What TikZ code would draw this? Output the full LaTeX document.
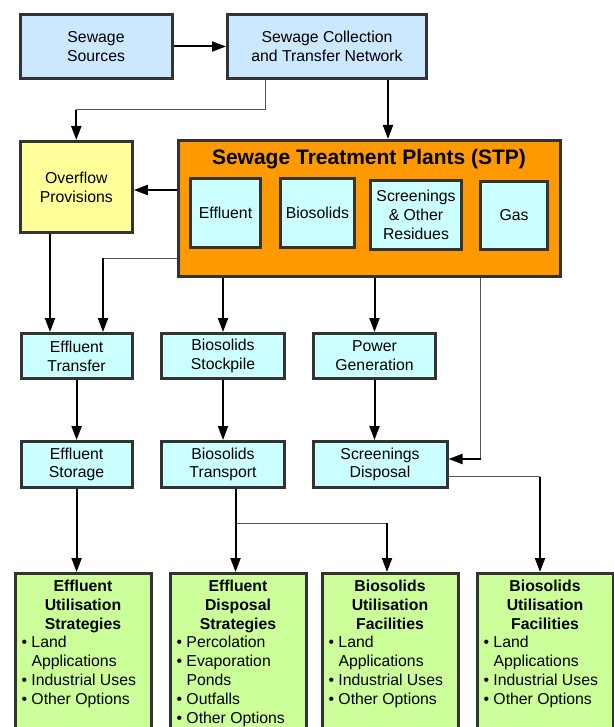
\documentclass[tikz,border=0pt]{standalone}
\usepackage{fontspec}
\setmainfont{Liberation Sans}
\usetikzlibrary{arrows.meta}

\definecolor{srcblue}{HTML}{CCE8FF}
\definecolor{boxcyan}{HTML}{CCFFFF}
\definecolor{ovyellow}{HTML}{FFFF99}
\definecolor{stporange}{HTML}{FF9900}
\definecolor{outgreen}{HTML}{CCFF99}
\definecolor{edgegray}{HTML}{333333}
\definecolor{thingray}{HTML}{555555}

\newcommand{\bul}[1]{\par\hangindent=10pt\hangafter=1\noindent\makebox[10pt][l]{\textbullet}#1}
\newcommand{\outtext}[2]{\parbox[c][160pt][t]{123pt}{{\centering\bfseries #1\par}\raggedright #2}}

\begin{document}
\begin{tikzpicture}[x=1pt, y=-1pt, font=\fontsize{15.8}{18.8}\selectfont,
  box/.style={draw=edgegray, line width=3pt, align=center, inner sep=2pt},
  cyanbox/.style={box, fill=boxcyan},
  outbox/.style={draw=edgegray, line width=3pt, fill=outgreen, minimum width=136pt, minimum height=173pt, inner xsep=6.5pt, inner ysep=0pt},
  arr/.style={line width=2pt, -{Triangle[length=14pt,width=10pt]}},
  thinline/.style={draw=thingray, line width=1pt}]
\useasboundingbox (0,0) rectangle (613,727);

\node [box, fill=srcblue, minimum width=152pt, minimum height=64pt] (src) at (96,46.5) {Sewage\\Sources};
\node [box, fill=srcblue, minimum width=199pt, minimum height=64pt] (coll) at (327,46.5) {Sewage Collection\\and Transfer Network};
\node [box, fill=ovyellow, minimum width=112pt, minimum height=91pt] (over) at (76.3,187) {Overflow\\Provisions};
\node [box, fill=stporange, minimum width=382pt, minimum height=136pt] (stp) at (369.3,208.5) {};
\node [font=\fontsize{21}{25}\selectfont\bfseries, anchor=base] (stptitle) at (369,164.5) {Sewage Treatment Plants (STP)};

\node [cyanbox, minimum width=70pt, minimum height=69pt] (ineff) at (225.5,213) {Effluent};
\node [cyanbox, minimum width=74pt, minimum height=69pt] (inbio) at (317.5,213) {Biosolids};
\node [cyanbox, minimum width=91pt, minimum height=69pt] (inscr) at (416,215) {Screenings\\\& Other\\Residues};
\node [cyanbox, minimum width=67pt, minimum height=68pt] (ingas) at (514,215.5) {Gas};

\node [cyanbox, minimum width=111pt, minimum height=45pt] (eftr) at (76.6,356) {Effluent\\Transfer};
\node [cyanbox, minimum width=123pt, minimum height=45pt] (bsto) at (223,356) {Biosolids\\Stockpile};
\node [cyanbox, minimum width=122pt, minimum height=45pt] (powr) at (374.5,356) {Power\\Generation};
\node [cyanbox, minimum width=111pt, minimum height=46pt] (efst) at (76.6,464.5) {Effluent\\Storage};
\node [cyanbox, minimum width=123pt, minimum height=46pt] (btra) at (223,464.5) {Biosolids\\Transport};
\node [cyanbox, minimum width=134pt, minimum height=46pt] (sdis) at (380,464.5) {Screenings\\Disposal};

\node [outbox] (b1) at (83,660) {\outtext{Effluent\\Utilisation\\Strategies}{\bul{Land\newline Applications}\bul{Industrial Uses}\bul{Other Options}}};
\node [outbox] (b2) at (238,660) {\outtext{Effluent\\Disposal\\Strategies}{\bul{Percolation}\bul{Evaporation\newline Ponds}\bul{Outfalls}\bul{Other Options}}};
\node [outbox] (b3) at (390,660) {\outtext{Biosolids\\Utilisation\\Facilities}{\bul{Land\newline Applications}\bul{Industrial Uses}\bul{Other Options}}};
\node [outbox] (b4) at (545,660) {\outtext{Biosolids\\Utilisation\\Facilities}{\bul{Land\newline Applications}\bul{Industrial Uses}\bul{Other Options}}};

\coordinate (colltap) at (265,110);
\coordinate (feedx) at (388,0);
\coordinate (spill) at (0,190);
\coordinate (ovx) at (50,0);
\coordinate (efftap) at (103,258);
\coordinate (scrtap) at (480.5,459);
\coordinate (biotap) at (235.5,523);
\coordinate (biobend) at (387,523);
\coordinate (dispbend) at (540,476.5);

\draw[arr] (src) -- (coll);
\draw[thinline] (coll.south -| colltap) |- (over.north |- colltap);
\draw[arr] (over.north |- colltap) -- (over.north);
\draw[arr] (coll.south -| feedx) -- (stp.north -| feedx);
\draw[arr] (stp.west |- spill) -- (over.east |- spill);

\draw[arr] (over.south -| ovx) -- (eftr.north -| ovx);
\draw[thinline] (stp.west |- efftap) -- (efftap);
\draw[arr] (efftap) -- (eftr.north -| efftap);
\draw[arr] (stp.south -| bsto) -- (bsto);
\draw[arr] (stp.south -| powr) -- (powr);
\draw[thinline] (stp.south -| scrtap) -- (scrtap);
\draw[arr] (scrtap) -- (sdis.east |- scrtap);

\draw[arr] (eftr) -- (efst);
\draw[arr] (bsto) -- (btra);
\draw[arr] (powr) -- (powr |- sdis.north);

\draw[arr] (efst) -- (efst |- b1.north);
\draw[arr] (btra.south -| biotap) -- (b2.north -| biotap);
\draw[thinline] (biotap) -- (biobend);
\draw[arr] (biobend) -- (b3.north -| biobend);
\draw[thinline] (sdis.east |- dispbend) -- (dispbend);
\draw[arr] (dispbend) -- (b4.north -| dispbend);
\end{tikzpicture}
\end{document}
